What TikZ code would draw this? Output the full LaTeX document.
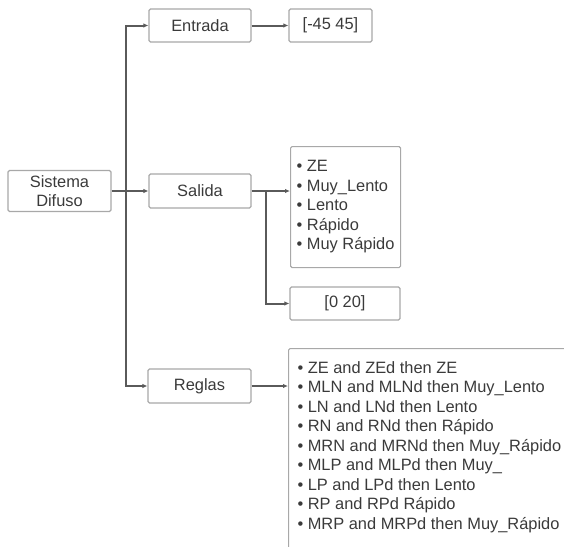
\documentclass[tikz,border=0pt]{standalone}
\usepackage{fontspec}
\setmainfont{Liberation Sans}
\usetikzlibrary{arrows.meta}
\definecolor{texto}{HTML}{3A3A3A}
\definecolor{borde}{HTML}{A8A8A8}
\definecolor{linea}{HTML}{5A5A5A}

\begin{document}
\begin{tikzpicture}[x=1pt, y=-1pt, >={Latex[length=5pt,width=4.5pt]},
	caja/.style={draw=borde, line width=1.1pt, rounded corners=1.5pt, text=texto, font=\fontsize{16.4}{19.5}\selectfont, inner sep=0pt},
	flecha/.style={->, draw=linea, line width=2pt}]
				% Definiciones para ubicar los troncos
				\def\xTronco{126}
				\def\xRamal{266}
				\def\yCentro{191}
				
				\path[use as bounding box, clip] (0,0) rectangle (564,546);
				
				% --- Cajas principales ---
				\node[caja, minimum width=103, minimum height=41, align=center] (sistema) at (59.5,\yCentro) {Sistema\\Difuso};
				\node[caja, minimum width=102, minimum height=33] (entrada) at (200,25.5) {Entrada};
				\node[caja, minimum width=102, minimum height=34] (salida) at (200,\yCentro) {Salida};
				\node[caja, minimum width=103, minimum height=34] (reglas) at (199.5,386) {Reglas};
				
				% --- Cajas de detalle ---
				\node[caja, minimum width=83, minimum height=33] (rangoentrada) at (330.5,25.5) {[-45 45]};
				\node[caja, anchor=north west, minimum width=110, minimum height=121, align=left] (conjuntos) at (290,146)
				{• ZE\\• Muy\_Lento\\• Lento\\• Rápido\\• Muy Rápido};
				\node[caja, minimum width=110, minimum height=33] (rangosalida) at (345,303.5) {[0 20]};
				\node[caja, anchor=north west, inner xsep=9pt, inner ysep=13pt] (listareglas) at (288,348)
				{\parbox[t][230pt][t]{300pt}{\raggedright
						• ZE and ZEd then ZE\\
						• MLN and MLNd then Muy\_Lento\\
						• LN and LNd then Lento\\
						• RN and RNd then Rápido\\
						• MRN and MRNd then Muy\_Rápido\\
						• MLP and MLPd then Muy\_\\
						• LP and LPd then Lento\\
						• RP and RPd Rápido\\
						• MRP and MRPd then Muy\_Rápido}};
				
				% --- Conexiones ---
				\coordinate (tronco) at (\xTronco,\yCentro);
				\coordinate (ramal) at (\xRamal,\yCentro);
				\draw[flecha] (sistema.east) -- (salida.west);
				\draw[flecha] (tronco) |- (entrada.west);
				\draw[flecha] (tronco) |- (reglas.west);
				\draw[flecha] (entrada.east) -- (rangoentrada.west);
				\draw[flecha] (salida.east) -- (salida.east -| conjuntos.west);
				\draw[flecha] (ramal) |- (rangosalida.west);
				\draw[flecha] (reglas.east) -- (reglas.east -| listareglas.west);
\end{tikzpicture}
\end{document}
